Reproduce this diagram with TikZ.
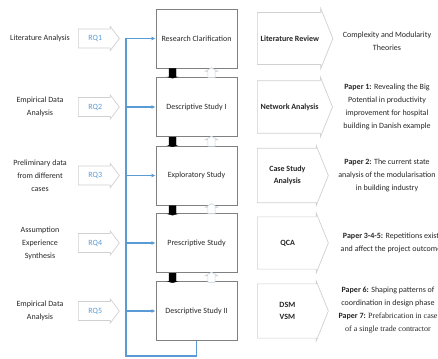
\documentclass[tikz,border=0pt]{standalone}
\usepackage{fontspec}
\setmainfont{Carlito}
\newfontfamily\timesfont{Liberation Serif}
\usetikzlibrary{shapes.arrows,arrows.meta}
\definecolor{rqblue}{HTML}{5B9BD5}
\definecolor{boxgray}{HTML}{808080}
\definecolor{arrowgray}{HTML}{D0D0D0}
\definecolor{upgray}{HTML}{C8D2DC}
\definecolor{textgray}{HTML}{262626}

\begin{document}
\begin{tikzpicture}[
        x=1pt, y=-1pt,
        every node/.style={font=\fontsize{8}{13}\selectfont, text=textgray},
        stage/.style={draw=boxgray, line width=0.9pt, minimum width=81pt, minimum height=59pt, inner sep=0pt},
        method/.style={single arrow, draw=arrowgray, fill=white, line width=0.7pt, anchor=tail,
          single arrow head extend=2pt, single arrow tip angle=136, minimum width=60pt, minimum height=71pt,
          inner xsep=3pt, inner ysep=10pt, align=center, font=\fontsize{8}{12}\selectfont\bfseries},
        rq/.style={single arrow, draw=arrowgray, line width=0.7pt, anchor=tail,
          single arrow head extend=2pt, single arrow tip angle=106, minimum width=24pt, minimum height=41pt,
          inner ysep=4pt, text=rqblue},
        source/.style={align=center},
        result/.style={align=center},
        downarrow/.style={single arrow, fill=black, draw=black, line width=0.4pt, shape border rotate=270, anchor=tail,
          single arrow head extend=1pt, single arrow tip angle=150, minimum height=9.5pt, inner sep=3.3pt},
        uparrow/.style={single arrow, draw=upgray, fill=white, line width=0.6pt, shape border rotate=90, anchor=tail,
          single arrow head extend=2.5pt, single arrow tip angle=120, minimum height=10pt, inner sep=3.3pt},
        bus/.style={draw=rqblue, line width=1.1pt, >={Latex[length=4pt,width=4pt]}}
      ]
      \useasboundingbox (0,0) rectangle (438,358);

      \node[stage] (s1) at (196.5,38.5) {Research Clarification};
      \node[stage] (s2) at (196.5,107) {Descriptive Study I};
      \node[stage] (s3) at (196.5,175.5) {Exploratory Study};
      \node[stage] (s4) at (196.5,243) {Prescriptive Study};
      \node[stage] (s5) at (196.5,311) {Descriptive Study II};

      \node[source] (src1) at (40,38.5) {Literature Analysis};
      \node[source] (src2) at (40,107) {Empirical Data\\Analysis};
      \node[source] (src3) at (40,175.5) {Preliminary data\\from different\\cases};
      \node[source] (src4) at (40,243) {Assumption\\Experience\\Synthesis};
      \node[source] (src5) at (40,311) {Empirical Data\\Analysis};

      \node[rq] (rq1) at (78,38.5) {RQ1};
      \node[rq] (rq2) at (78,107) {RQ2};
      \node[rq] (rq3) at (78,175.5) {RQ3};
      \node[rq] (rq4) at (78,243) {RQ4};
      \node[rq] (rq5) at (78,311) {RQ5};

      \node[method] (m1) at (257,38.5) {Literature Review};
      \node[method] (m2) at (257,107) {Network Analysis};
      \node[method] (m3) at (257,175.5) {Case Study\\Analysis};
      \node[method] (m4) at (257,243) {QCA};
      \node[method] (m5) at (257,311) {DSM\\VSM};

      \node[result] (r1) at (387,41) {Complexity and Modularity\\Theories};
      \node[result] (r2) at (387,107) {\textbf{Paper 1:} Revealing the Big\\Potential in productivity\\improvement for hospital\\building in Danish example};
      \node[result] (r3) at (387,175.5) {\textbf{Paper 2:} The current state\\analysis of the modularisation\\in building industry};
      \node[result] (r4) at (391,243) {\textbf{Paper 3-4-5:} Repetitions exist\\and affect the project outcome};
      \node[result] (r5) at (388,310.5) {\textbf{Paper 6:} Shaping patterns of\\coordination in design phase\\\textbf{Paper 7:} {\timesfont Prefabrication in case}\\{\timesfont of a single trade contractor}};

      \node[downarrow] (dn1) at (172.5,68.5) {};
      \node[downarrow] (dn2) at (172.5,137) {};
      \node[downarrow] (dn3) at (172.5,205.5) {};
      \node[downarrow] (dn4) at (172.5,273) {};
      \node[uparrow] (up1) at (211.5,78) {};
      \node[uparrow] (up2) at (211.5,146.5) {};
      \node[uparrow] (up3) at (211.5,214) {};
      \node[uparrow] (up4) at (211.5,282.5) {};

      \coordinate (busbot) at (126,356);
      \draw[bus,->] (s5.south) |- (busbot) |- (s1.west);
      \foreach \k in {2,...,5}
        \draw[bus,->] (s\k.west -| busbot) -- (s\k.west);
\end{tikzpicture}
\end{document}
